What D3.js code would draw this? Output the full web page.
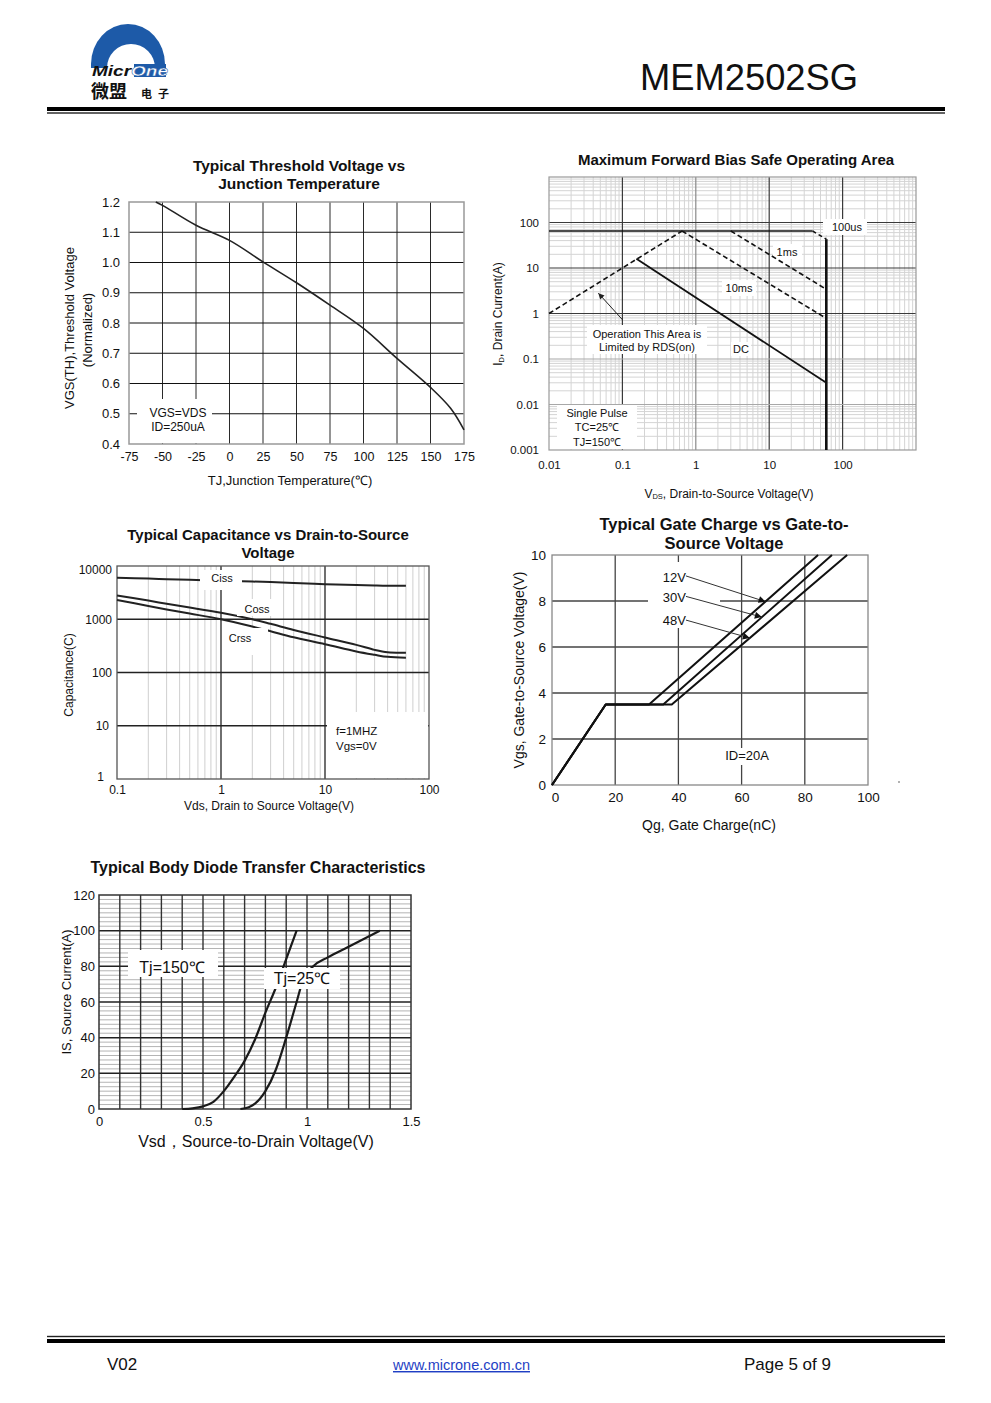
<!DOCTYPE html>
<html><head><meta charset="utf-8">
<script src="https://cdn.jsdelivr.net/npm/d3@7/dist/d3.min.js"></script>
<style>
html,body{margin:0;padding:0;background:#fff;}
svg{display:block;}
</style></head><body>
<svg id="page" width="991" height="1403"></svg>
<script>
// ================= DATA =================
// Chart 1: Typical Threshold Voltage vs Junction Temperature
const vthTemp = [-55, -50, -25, 0, 25, 50, 75, 100, 125, 150, 165, 175];
const vthNorm = [1.200, 1.189, 1.123, 1.073, 1.002, 0.933, 0.859, 0.782, 0.683, 0.587, 0.518, 0.447];
const vthXTicks = [-75, -50, -25, 0, 25, 50, 75, 100, 125, 150, 175];
const vthYTicks = [0.4, 0.5, 0.6, 0.7, 0.8, 0.9, 1.0, 1.1, 1.2];

// Chart 2: Maximum Forward Bias Safe Operating Area
const soaXTicks = [0.01, 0.1, 1, 10, 100];
const soaYTicks = [0.001, 0.01, 0.1, 1, 10, 100];
const soaRdsV = [0.01, 0.65],  soaRdsI = [1, 65];
const soaIdmV = [0.01, 39],    soaIdmI = [65, 65];
const soa100usV = [39, 60],    soa100usI = [65, 43];
const soa1msV = [3, 60],       soa1msI = [65, 3.4];
const soa10msV = [0.65, 60],   soa10msI = [65, 0.78];
const soaDcV = [0.155, 60],    soaDcI = [16, 0.03];
const soaBvV = [60, 60],       soaBvI = [43, 0.001];

// Chart 3: Typical Capacitance vs Drain-to-Source Voltage
const capV    = [0.1, 0.2, 0.3, 0.5, 1, 2, 3, 5, 10, 20, 30, 40, 60];
const capCiss = [6000, 5800, 5650, 5500, 5300, 5100, 5000, 4800, 4550, 4400, 4300, 4250, 4250];
const capCoss = [2800, 2240, 1950, 1660, 1320, 1000, 820, 630, 455, 330, 266, 240, 236];
const capCrss = [2300, 1780, 1530, 1280, 1000, 730, 596, 458, 340, 248, 215, 197, 190];
const capXTicks = [0.1, 1, 10, 100];
const capYTicks = [1, 10, 100, 1000, 10000];

// Chart 4: Typical Gate Charge vs Gate-to-Source Voltage
const gcQ12 = [0, 17, 30.7, 84.2], gcV12 = [0, 3.5, 3.5, 10];
const gcQ30 = [0, 17, 35.2, 88.6], gcV30 = [0, 3.5, 3.5, 10];
const gcQ48 = [0, 17, 37.9, 93.4], gcV48 = [0, 3.5, 3.5, 10];
const gcXTicks = [0, 20, 40, 60, 80, 100];
const gcYTicks = [0, 2, 4, 6, 8, 10];

// Chart 5: Typical Body Diode Transfer Characteristics
const bd150V = [0.40, 0.45, 0.50, 0.55, 0.60, 0.65, 0.70, 0.75, 0.80, 0.85, 0.90, 0.95];
const bd150I = [0, 0.4, 1.5, 4, 10, 18, 27, 39, 54, 68, 84, 100];
const bd25V  = [0.68, 0.72, 0.75, 0.80, 0.85, 0.90, 0.95, 0.98, 1.03, 1.10, 1.20, 1.35];
const bd25I  = [0, 1, 3, 10, 22, 40, 60, 72, 80, 85, 91, 100];
const bdXTicks = [0, 0.5, 1, 1.5];
const bdYTicks = [0, 20, 40, 60, 80, 100, 120];

// ================= HELPERS =================
const FONT = '"Liberation Sans", Arial, Helvetica, sans-serif';
const svg = d3.select('#page').attr('font-family', FONT);

function T(g, x, y, s, o = {}) {
  const t = g.append('text').attr('x', x).attr('y', y).text(s)
    .attr('font-size', o.size || 12).attr('text-anchor', o.anchor || 'middle')
    .attr('fill', o.fill || '#111');
  if (o.bold) t.attr('font-weight', 'bold');
  if (o.dy) t.attr('dy', o.dy);
  if (o.rotate) t.attr('transform', `rotate(-90 ${x} ${y})`);
  if (o.family) t.attr('font-family', o.family);
  return t;
}
function hGrid(g, x, y, vals, color, w) {
  const [a, b] = x.range();
  g.append('g').selectAll('line').data(vals).join('line')
    .attr('x1', a).attr('x2', b).attr('y1', d => y(d)).attr('y2', d => y(d))
    .attr('stroke', typeof color === 'function' ? color : () => color).attr('stroke-width', w);
}
function vGrid(g, x, y, vals, color, w) {
  const [a, b] = y.range();
  g.append('g').selectAll('line').data(vals).join('line')
    .attr('y1', a).attr('y2', b).attr('x1', d => x(d)).attr('x2', d => x(d))
    .attr('stroke', typeof color === 'function' ? color : () => color).attr('stroke-width', w);
}
function border(g, x, y, color, w) {
  const [x0, x1] = x.range(), [y1, y0] = y.range();
  g.append('rect').attr('x', x0).attr('y', y0).attr('width', x1 - x0).attr('height', y1 - y0)
    .attr('fill', 'none').attr('stroke', color).attr('stroke-width', w);
}
function box(g, x0, y0, x1, y1) {
  g.append('rect').attr('x', x0).attr('y', y0).attr('width', x1 - x0).attr('height', y1 - y0).attr('fill', '#fff');
}
function axisText(g, axis, tx, ty, size) {
  const a = g.append('g').attr('transform', `translate(${tx},${ty})`).call(axis);
  a.attr('font-family', FONT).attr('font-size', size);
  a.select('.domain').remove();
  a.selectAll('.tick line').remove();
  a.selectAll('.tick text').attr('fill', '#111');
  return a;
}
function path(g, xs, ys, x, y, o = {}) {
  const pts = xs.map((v, i) => [v, ys[i]]);
  const ln = d3.line().x(d => x(d[0])).y(d => y(d[1])).curve(o.curve || d3.curveLinear);
  const p = g.append('path').datum(pts).attr('d', ln).attr('fill', 'none')
    .attr('stroke', o.color || '#111').attr('stroke-width', o.w || 1.6)
    .attr('stroke-linejoin', 'round');
  if (o.dash) p.attr('stroke-dasharray', o.dash);
  return p;
}
function minorLog(lo, hi) {
  const out = [];
  for (let e = Math.round(Math.log10(lo)); e < Math.round(Math.log10(hi)); e++)
    for (let k = 2; k <= 9; k++) out.push(k * Math.pow(10, e));
  return out;
}
const smooth = d3.curveCatmullRom.alpha(0.5);

const defs = svg.append('defs');
defs.append('marker').attr('id', 'arr').attr('viewBox', '0 0 10 10').attr('refX', 10).attr('refY', 5)
  .attr('markerWidth', 9).attr('markerHeight', 7).attr('markerUnits', 'userSpaceOnUse').attr('orient', 'auto')
  .append('path').attr('d', 'M0,0 L10,5 L0,10 Z').attr('fill', '#111');
defs.append('marker').attr('id', 'arrS').attr('viewBox', '0 0 10 10').attr('refX', 10).attr('refY', 5)
  .attr('markerWidth', 7).attr('markerHeight', 6).attr('markerUnits', 'userSpaceOnUse').attr('orient', 'auto')
  .append('path').attr('d', 'M0,0 L10,5 L0,10 Z').attr('fill', '#222');

// ================= HEADER =================
{
  const g = svg.append('g');
  // logo
  g.append('path').attr('d', 'M91,68 L91,64 A37,40 0 0 1 165,64 L165,68 Z').attr('fill', '#1d5aa8');
  g.append('path').attr('d', 'M107,68 A24,24 0 0 1 155,68 Z').attr('fill', '#fff');
  g.append('rect').attr('x', 134).attr('y', 64).attr('width', 32).attr('height', 13).attr('fill', '#1d5aa8');
  const lt = g.append('text').attr('x', 92).attr('y', 76).attr('font-size', 14).attr('font-weight', 'bold')
    .attr('font-style', 'italic').attr('textLength', 76).attr('lengthAdjust', 'spacingAndGlyphs');
  lt.append('tspan').text('Micr').attr('fill', '#111');
  lt.append('tspan').text('One').attr('fill', '#fff').attr('stroke', '#1d5aa8').attr('stroke-width', 0.4);
  T(g, 91, 97.5, '微盟', { size: 18, anchor: 'start', bold: true, family: '"Noto Sans CJK SC", sans-serif' });
  T(g, 141, 97.5, '电子', { size: 11, anchor: 'start', bold: true, family: '"Noto Sans CJK SC", sans-serif' })
    .attr('letter-spacing', 6);
  T(g, 640, 90, 'MEM2502SG', { size: 37, anchor: 'start' })
    .attr('textLength', 218).attr('lengthAdjust', 'spacingAndGlyphs');
  g.append('rect').attr('x', 47).attr('y', 107).attr('width', 898).attr('height', 4).attr('fill', '#000');
  g.append('rect').attr('x', 47).attr('y', 112.3).attr('width', 898).attr('height', 1.4).attr('fill', '#222');
}

// ================= CHART 1 =================
{
  const g = svg.append('g');
  const x = d3.scaleLinear().domain([-75, 175]).range([129, 464]);
  const y = d3.scaleLinear().domain([0.4, 1.2]).range([444, 202]);
  vGrid(g, x, y, vthXTicks.slice(1, -1), '#2a2a2a', 1);
  hGrid(g, x, y, vthYTicks.slice(1, -1), '#111', 1);
  border(g, x, y, '#999', 1.5);
  box(g, 137, 399, 212, 443);
  path(g, vthTemp, vthNorm, x, y, { w: 1.6, color: '#222', curve: smooth });
  T(g, 178, 413, 'VGS=VDS', { size: 12, dy: '0.35em' });
  T(g, 178, 427, 'ID=250uA', { size: 12, dy: '0.35em' });
  axisText(g, d3.axisLeft(y).tickValues(vthYTicks).tickFormat(d3.format('.1f')).tickSize(0).tickPadding(9), 129, 0, 13);
  axisText(g, d3.axisBottom(x).tickValues(vthXTicks).tickFormat(d => String(d)).tickSize(0).tickPadding(8), 0, 444, 12.5);
  T(g, 299, 171, 'Typical Threshold Voltage vs', { size: 15.5, bold: true });
  T(g, 299, 189, 'Junction Temperature', { size: 15.5, bold: true });
  T(g, 69, 328, 'VGS(TH),Threshold Voltage', { size: 13, rotate: true, dy: '0.35em' });
  T(g, 87, 330, '(Normalized)', { size: 13, rotate: true, dy: '0.35em' });
  T(g, 290, 485, 'TJ,Junction Temperature(℃)', { size: 13 });
}

// ================= CHART 2 (SOA) =================
{
  const g = svg.append('g');
  const x = d3.scaleLog().domain([0.01, 1000]).range([549, 916]);
  const y = d3.scaleLog().domain([0.001, 1000]).range([450, 177]);
  vGrid(g, x, y, minorLog(0.01, 1000), '#d4d4d4', 1);
  hGrid(g, x, y, minorLog(0.001, 1000), '#d4d4d4', 1);
  vGrid(g, x, y, [0.1, 1, 10, 100], d => d === 1 ? '#8a8a8a' : '#3a3a3a', 1.2);
  hGrid(g, x, y, [0.01, 0.1, 1, 10, 100], d => d < 1 ? '#a8a8a8' : '#3a3a3a', 1.2);
  border(g, x, y, '#9a9a9a', 1.2);
  // label boxes
  box(g, 823, 219, 867, 235);
  box(g, 773, 244, 802, 259);
  box(g, 722, 280, 756, 296);
  box(g, 731, 342, 751, 356);
  box(g, 587, 325, 707, 354);
  box(g, 557, 405, 637, 449);
  // curves
  path(g, soaRdsV, soaRdsI, x, y, { w: 1.6, dash: '5,3' });
  path(g, soaIdmV, soaIdmI, x, y, { w: 1.3 });
  path(g, soa100usV, soa100usI, x, y, { w: 1.5, dash: '4,3' });
  path(g, soa1msV, soa1msI, x, y, { w: 1.6, dash: '5,3' });
  path(g, soa10msV, soa10msI, x, y, { w: 1.6, dash: '5,3' });
  path(g, soaDcV, soaDcI, x, y, { w: 1.8 });
  path(g, soaBvV, soaBvI, x, y, { w: 2.6 });
  g.append('line').attr('x1', x(0.101)).attr('y1', y(0.72)).attr('x2', x(0.047)).attr('y2', y(2.8))
    .attr('stroke', '#222').attr('stroke-width', 1).attr('marker-end', 'url(#arrS)');
  T(g, 847, 227, '100us', { size: 11, dy: '0.35em' });
  T(g, 787, 252, '1ms', { size: 11, dy: '0.35em' });
  T(g, 739, 288, '10ms', { size: 11, dy: '0.35em' });
  T(g, 741, 349, 'DC', { size: 11, dy: '0.35em' });
  T(g, 647, 334, 'Operation This Area is', { size: 11, dy: '0.35em' });
  T(g, 647, 347, 'Limited by RDS(on)', { size: 11, dy: '0.35em' });
  T(g, 597, 413, 'Single Pulse', { size: 11, dy: '0.35em' });
  T(g, 597, 427, 'TC=25℃', { size: 11, dy: '0.35em' });
  T(g, 597, 442, 'TJ=150℃', { size: 11, dy: '0.35em' });
  axisText(g, d3.axisLeft(y).tickValues(soaYTicks).tickFormat(d => String(d)).tickSize(0).tickPadding(10), 549, 0, 11.5);
  axisText(g, d3.axisBottom(x).tickValues(soaXTicks).tickFormat(d => String(d)).tickSize(0).tickPadding(11), 0, 450, 11.5);
  T(g, 736, 165, 'Maximum Forward Bias Safe Operating Area', { size: 15, bold: true });
  const yt = g.append('text').attr('transform', 'translate(502,314) rotate(-90)').attr('text-anchor', 'middle')
    .attr('font-size', 12).attr('fill', '#111');
  yt.append('tspan').text('I');
  yt.append('tspan').text('D').attr('font-size', 7.5).attr('dy', 2);
  yt.append('tspan').text(', Drain Current(A)').attr('dy', -2);
  const xt = g.append('text').attr('x', 729).attr('y', 498).attr('text-anchor', 'middle')
    .attr('font-size', 12).attr('fill', '#111');
  xt.append('tspan').text('V');
  xt.append('tspan').text('DS').attr('font-size', 7.5).attr('dy', 1);
  xt.append('tspan').text(', Drain-to-Source Voltage(V)').attr('dy', -1);
}

// ================= CHART 3 (Capacitance) =================
{
  const g = svg.append('g');
  const x = d3.scaleLog().domain([0.1, 100]).range([117, 429]);
  const y = d3.scaleLog().domain([1, 10000]).range([779, 566]);
  vGrid(g, x, y, minorLog(0.1, 100), '#cfcfcf', 1);
  vGrid(g, x, y, [1, 10], '#222', 1.3);
  hGrid(g, x, y, [10, 100, 1000], '#222', 1.3);
  border(g, x, y, '#555', 1.3);
  path(g, capV, capCiss, x, y, { w: 2, color: '#222', curve: smooth });
  path(g, capV, capCoss, x, y, { w: 2, color: '#222', curve: smooth });
  path(g, capV, capCrss, x, y, { w: 2, color: '#222', curve: smooth });
  box(g, 200, 570, 242, 590);
  box(g, 237, 599, 278, 616);
  box(g, 225, 628, 268, 655);
  box(g, 327, 712, 428, 778);
  T(g, 222, 578, 'Ciss', { size: 11, dy: '0.35em' });
  T(g, 257, 609, 'Coss', { size: 11, dy: '0.35em' });
  T(g, 240, 638, 'Crss', { size: 11, dy: '0.35em' });
  T(g, 336, 731, 'f=1MHZ', { size: 11.5, anchor: 'start', dy: '0.35em' });
  T(g, 336, 746, 'Vgs=0V', { size: 11.5, anchor: 'start', dy: '0.35em' });
  const ya = axisText(g, d3.axisLeft(y).tickValues(capYTicks).tickFormat(d => String(d)).tickSize(0).tickPadding(5), 117, 0, 12);
  ya.selectAll('.tick text')
    .attr('dy', d => d === 10000 ? '0.6em' : (d === 1 ? '0.1em' : '0.32em'))
    .attr('dx', d => d === 1 ? -8 : (d === 10 ? -3 : 0));
  axisText(g, d3.axisBottom(x).tickValues(capXTicks).tickFormat(d => String(d)).tickSize(0).tickPadding(6), 0, 779, 12);
  T(g, 268, 540, 'Typical Capacitance vs Drain-to-Source', { size: 15, bold: true });
  T(g, 268, 558, 'Voltage', { size: 15, bold: true });
  T(g, 69, 675, 'Capacitance(C)', { size: 12, rotate: true, dy: '0.35em' });
  T(g, 269, 810, 'Vds, Drain to Source Voltage(V)', { size: 12 });
}

// ================= CHART 4 (Gate charge) =================
{
  const g = svg.append('g');
  const x = d3.scaleLinear().domain([0, 100]).range([552, 868]);
  const y = d3.scaleLinear().domain([0, 10]).range([785, 555]);
  vGrid(g, x, y, gcXTicks.slice(1, -1), '#444', 1.3);
  hGrid(g, x, y, gcYTicks.slice(1, -1), '#444', 1.3);
  border(g, x, y, '#888', 1.3);
  box(g, 648, 562, 720, 628);
  box(g, 722, 748, 772, 765);
  path(g, gcQ12, gcV12, x, y, { w: 2 });
  path(g, gcQ30, gcV30, x, y, { w: 2 });
  path(g, gcQ48, gcV48, x, y, { w: 2 });
  [[9.09, 67.6, 7.97], [8.2, 66.4, 7.3], [7.17, 62.6, 6.39]].forEach(([v0, q1, v1]) => {
    g.append('line').attr('x1', x(42.4)).attr('y1', y(v0)).attr('x2', x(q1)).attr('y2', y(v1))
      .attr('stroke', '#333').attr('stroke-width', 1).attr('marker-end', 'url(#arr)');
  });
  T(g, 686, 577, '12V', { size: 13, anchor: 'end', dy: '0.35em' });
  T(g, 686, 597, '30V', { size: 13, anchor: 'end', dy: '0.35em' });
  T(g, 686, 620, '48V', { size: 13, anchor: 'end', dy: '0.35em' });
  T(g, 747, 755, 'ID=20A', { size: 13, dy: '0.35em' });
  g.append('circle').attr('cx', 899).attr('cy', 782).attr('r', 1).attr('fill', '#999');
  axisText(g, d3.axisLeft(y).tickValues(gcYTicks).tickSize(0).tickPadding(6), 552, 0, 13.5);
  const xa = axisText(g, d3.axisBottom(x).tickValues(gcXTicks).tickSize(0).tickPadding(7), 0, 785, 13.5);
  xa.selectAll('.tick text').attr('dx', d => d === 0 ? 3 : 0);
  T(g, 724, 530, 'Typical Gate Charge vs Gate-to-', { size: 16.5, bold: true });
  T(g, 724, 549, 'Source Voltage', { size: 16.5, bold: true });
  T(g, 519, 670, 'Vgs, Gate-to-Source Voltage(V)', { size: 14, rotate: true, dy: '0.35em' });
  T(g, 709, 830, 'Qg, Gate Charge(nC)', { size: 14 });
}

// ================= CHART 5 (Body diode) =================
{
  const g = svg.append('g');
  const x = d3.scaleLinear().domain([0, 1.5]).range([99, 411]);
  const y = d3.scaleLinear().domain([0, 120]).range([1109, 895]);
  const minorH = d3.range(1, 48).map(i => i * 2.5).filter(v => v % 20 !== 0);
  hGrid(g, x, y, minorH, '#b4b4b4', 1);
  vGrid(g, x, y, d3.range(1, 15).map(i => i / 10), '#333', 1.4);
  hGrid(g, x, y, bdYTicks.slice(1, -1), '#222', 1.5);
  border(g, x, y, '#333', 1.5);
  path(g, bd150V, bd150I, x, y, { w: 2.2, color: '#1a1a1a', curve: d3.curveMonotoneX });
  path(g, bd25V, bd25I, x, y, { w: 2.2, color: '#1a1a1a', curve: d3.curveMonotoneX });
  box(g, 128, 950, 218, 977);
  box(g, 264, 968, 340, 989);
  T(g, 172, 973, 'Tj=150℃', { size: 16 });
  T(g, 302, 984, 'Tj=25℃', { size: 16 });
  axisText(g, d3.axisLeft(y).tickValues(bdYTicks).tickSize(0).tickPadding(4), 99, 0, 13);
  axisText(g, d3.axisBottom(x).tickValues(bdXTicks).tickFormat(d => String(d)).tickSize(0).tickPadding(8), 0, 1109, 13);
  T(g, 258, 873, 'Typical Body Diode Transfer Characteristics', { size: 16, bold: true });
  T(g, 66, 992, 'IS, Source Current(A)', { size: 13, rotate: true, dy: '0.35em' });
  T(g, 256, 1147, 'Vsd，Source-to-Drain Voltage(V)', { size: 16 });
}

// ================= FOOTER =================
{
  const g = svg.append('g');
  g.append('rect').attr('x', 47).attr('y', 1335.8).attr('width', 898).attr('height', 1.4).attr('fill', '#222');
  g.append('rect').attr('x', 47).attr('y', 1339).attr('width', 898).attr('height', 4).attr('fill', '#000');
  T(g, 107, 1370, 'V02', { size: 17, anchor: 'start' });
  T(g, 393, 1370, 'www.microne.com.cn', { size: 14.5, anchor: 'start', fill: '#1f3fc4' })
    .attr('text-decoration', 'underline');
  T(g, 744, 1370, 'Page 5 of 9', { size: 17, anchor: 'start' });
}
</script>
</body></html>
